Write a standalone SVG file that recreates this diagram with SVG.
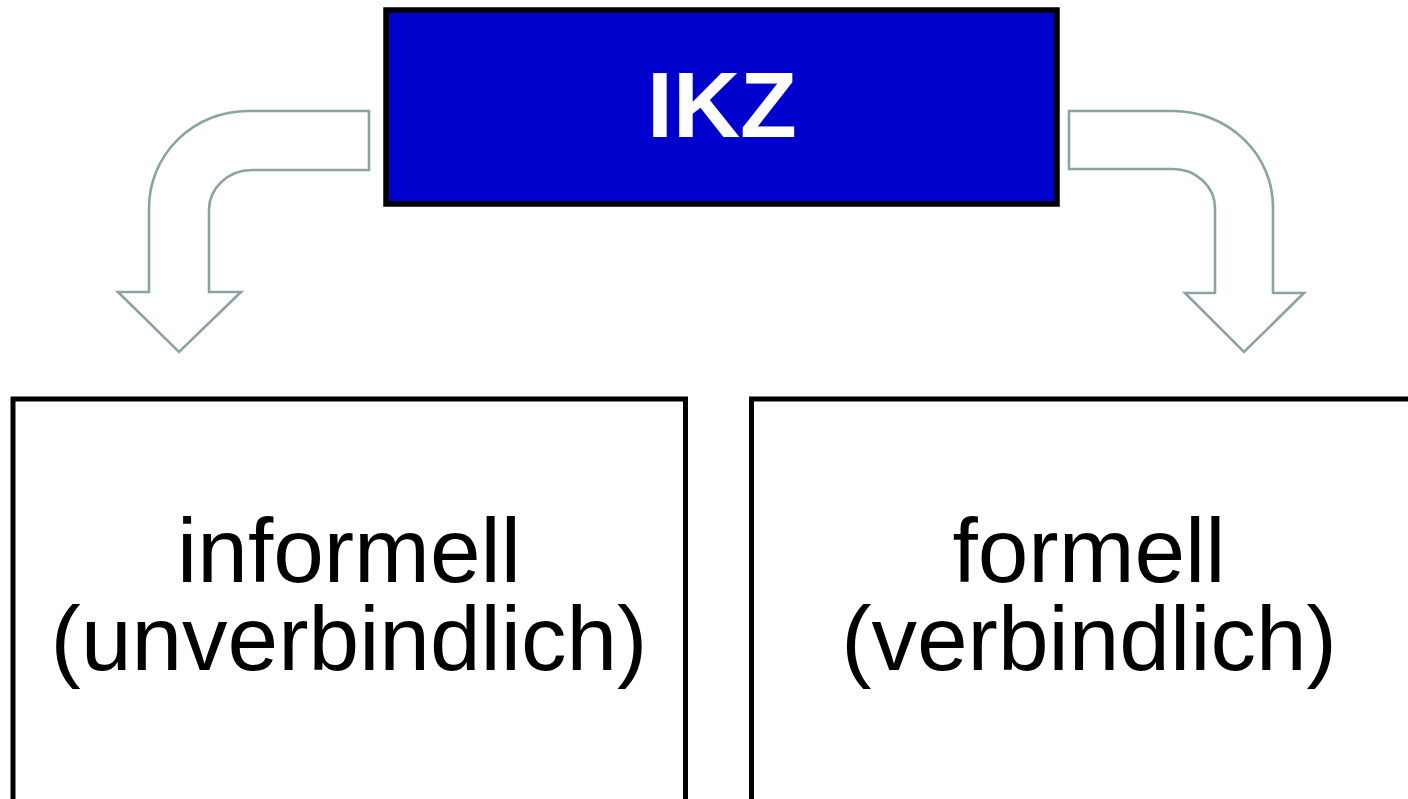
<svg xmlns="http://www.w3.org/2000/svg" width="1408" height="799" viewBox="0 0 1408 799">
<style>
.box{fill:#fff;stroke:#000;stroke-width:5}
.arrow{fill:#fff;stroke:#8ba3a3;stroke-width:2.6;stroke-linejoin:miter}
.lbl{font-family:"Liberation Sans",Arial,Helvetica,sans-serif;font-size:91px;fill:#000;text-anchor:middle}
.title{font-family:"Liberation Sans",Arial,Helvetica,sans-serif;font-size:93px;font-weight:bold;fill:#fff;text-anchor:middle}
</style>
<rect width="1408" height="799" fill="#fff"/>
<g id="connectors">
<path class="arrow" d="M369,111 L248,111 A99,97 0 0 0 149,208 L149,292 L118,292 L179,352 L241,292 L209,292 L209,210 A43,40 0 0 1 252,170 L369,170 Z"/>
<path class="arrow" d="M1069,111 L1173,111 A100,96 0 0 1 1273,207 L1273,293 L1304,293 L1244,352 L1185,293 L1215,293 L1215,208 A42,39 0 0 0 1173,169 L1069,169 Z"/>
</g>
<g id="node-ikz">
<rect x="386" y="10" width="671" height="194" fill="#0000cc" stroke="#000" stroke-width="5.5"/>
<text class="title" x="722" y="137">IKZ</text>
</g>
<g id="node-informell">
<rect class="box" x="13" y="399" width="672.5" height="420"/>
<text class="lbl" x="349" y="582">informell</text>
<text class="lbl" x="349" y="670">(unverbindlich)</text>
</g>
<g id="node-formell">
<rect class="box" x="751.5" y="399" width="680" height="420"/>
<text class="lbl" x="1089" y="582">formell</text>
<text class="lbl" x="1089" y="670">(verbindlich)</text>
</g>
</svg>
